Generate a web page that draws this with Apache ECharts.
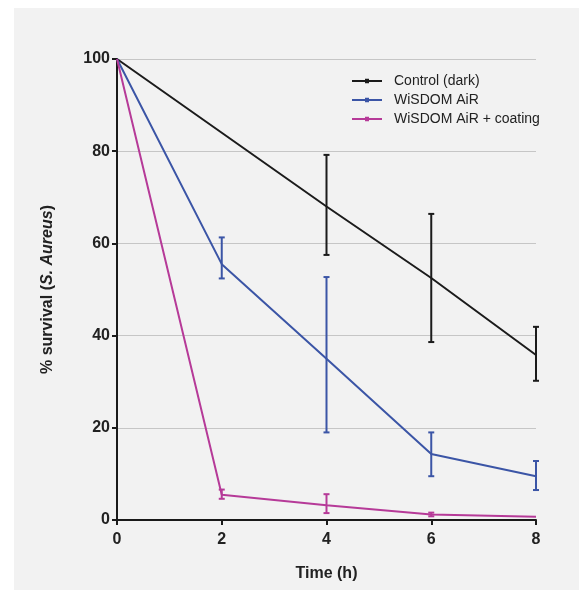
<!DOCTYPE html>
<html><head><meta charset="utf-8">
<script src="https://cdn.jsdelivr.net/npm/echarts@6/dist/echarts.min.js"></script>
<style>html,body{margin:0;padding:0;background:#fff}#c{width:579px;height:590px}</style>
</head><body><div id="c"></div>
<script>
const times = [0, 2, 4, 6, 8];
const seriesNames = ['Control (dark)', 'WiSDOM AiR', 'WiSDOM AiR + coating'];
const controlMean = [100, 84, 68, 52.5, 35.8];
const controlLow  = [null, null, 57.5, 38.6, 30.2];
const controlHigh = [null, null, 79.2, 66.4, 41.9];
const airMean = [100, 55.5, 35, 14.3, 9.5];
const airLow  = [null, 52.4, 19, 9.5, 6.5];
const airHigh = [null, 61.3, 52.7, 19, 12.8];
const coatMean = [100, 5.5, 3.2, 1.2, 0.7];
const coatLow  = [null, 4.6, 1.5, 0.8, null];
const coatHigh = [null, 6.6, 5.6, 1.6, null];
const yTicks = [0, 20, 40, 60, 80, 100];
const colors = ['#1b1b1b', '#3b55a6', '#b63a98'];

const chart = echarts.init(document.getElementById('c'), null, {renderer: 'canvas'});
function lineData(m){ return times.map((t,i)=>[t,m[i]]); }
function errData(lo,hi){ const d=[]; times.forEach((t,i)=>{ if(lo[i]!=null) d.push([t,lo[i],hi[i]]); }); return d; }
function errSeries(name, lo, hi, color){
  return {
    type: 'custom', name: name, data: errData(lo,hi), z: 3, silent: true,
    renderItem: function(params, api){
      const x = api.value(0);
      const a = api.coord([x, api.value(1)]);
      const b = api.coord([x, api.value(2)]);
      const w = 3;
      const st = {stroke: color, lineWidth: 2};
      return {type:'group', children:[
        {type:'line', shape:{x1:a[0],y1:a[1],x2:b[0],y2:b[1]}, style: st},
        {type:'line', shape:{x1:a[0]-w,y1:a[1],x2:a[0]+w,y2:a[1]}, style: st},
        {type:'line', shape:{x1:b[0]-w,y1:b[1],x2:b[0]+w,y2:b[1]}, style: st}
      ]};
    }
  };
}
function lineSeries(name, m, color){
  return {type:'line', name:name, data: lineData(m), symbol:'rect', symbolSize:3, showSymbol:false,
    lineStyle:{width:2, color:color}, itemStyle:{color:color}, z:4};
}
const legendIcon = 'path://M0,2H30V4H0Z M13,0.8H17V5.2H13Z';
chart.setOption({
  animation: false,
  color: colors,
  graphic: [{type:'rect', shape:{x:14, y:8, width:579, height:590}, style:{fill:'#f2f2f2'}, z:-10}],
  grid: {left:117, right:43, top:59, bottom:70, containLabel:false},
  legend: {
    data: seriesNames.map(n=>({name:n, icon: legendIcon})), orient:'vertical', left: 347, top: 69, itemGap: 5,
    itemWidth: 30, itemHeight: 6,
    textStyle: {fontFamily:'Liberation Sans, Arial', fontSize:14, color:'#222', padding:[0,0,0,7]}
  },
  xAxis: {
    type:'value', min:0, max:8, interval:2,
    name:'Time (h)', nameLocation:'middle', nameGap:46,
    nameTextStyle:{fontFamily:'Liberation Sans, Arial', fontSize:16, fontWeight:'bold', color:'#222'},
    axisLine:{lineStyle:{color:'#1a1a1a', width:2}},
    axisTick:{show:true, inside:false, length:5, lineStyle:{color:'#1a1a1a', width:2}},
    axisLabel:{fontFamily:'Liberation Sans, Arial', fontSize:16, fontWeight:'bold', color:'#222', margin:12},
    splitLine:{show:false}
  },
  yAxis: {
    type:'value', min:0, max:100, interval:20,
    name:'{a|% survival (}{b|S. Aureus}{a|)}', nameLocation:'middle', nameGap:61,
    nameTextStyle:{rich:{
      a:{fontFamily:'Liberation Sans, Arial', fontSize:16, fontWeight:'bold', color:'#222'},
      b:{fontFamily:'Liberation Sans, Arial', fontSize:16, fontWeight:'bold', fontStyle:'italic', color:'#222'}
    }},
    axisLine:{show:true, lineStyle:{color:'#1a1a1a', width:2}},
    axisTick:{show:true, inside:false, length:5, lineStyle:{color:'#1a1a1a', width:2}},
    axisLabel:{fontFamily:'Liberation Sans, Arial', fontSize:16, fontWeight:'bold', color:'#222', margin:7,
      formatter: function(v){ return yTicks.indexOf(v)>=0 ? String(v) : ''; }},
    splitLine:{show:true, lineStyle:{color:'#c6c6c6', width:1}}
  },
  series: [
    lineSeries(seriesNames[0], controlMean, colors[0]),
    lineSeries(seriesNames[1], airMean, colors[1]),
    lineSeries(seriesNames[2], coatMean, colors[2]),
    errSeries(seriesNames[0], controlLow, controlHigh, colors[0]),
    errSeries(seriesNames[1], airLow, airHigh, colors[1]),
    errSeries(seriesNames[2], coatLow, coatHigh, colors[2])
  ]
});
</script></body></html>
